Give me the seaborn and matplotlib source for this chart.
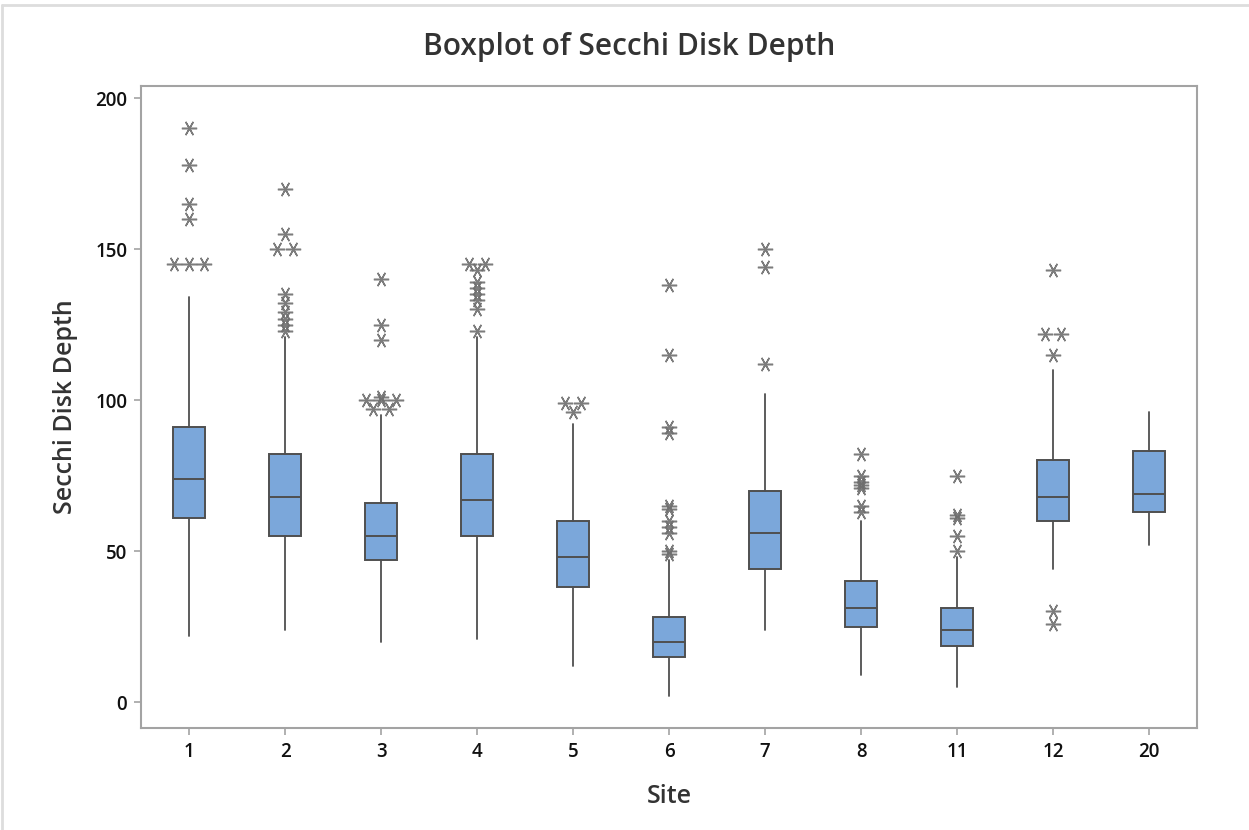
import matplotlib
matplotlib.use("Agg")
import matplotlib.pyplot as plt
from matplotlib.lines import Line2D
import seaborn as sns
import numpy as np

# Site labels along the x axis
sites = ["1", "2", "3", "4", "5", "6", "7", "8", "11", "12", "20"]

# Five-number summaries per site (whisker ends, quartiles, median)
whisker_low = [22, 24, 20, 21, 12, 2, 24, 9, 5, 44, 52]
q1 = [61, 55, 47, 55, 38, 15, 44, 25, 18.5, 60, 63]
median = [74, 68, 55, 67, 48, 20, 56, 31, 24, 68, 69]
q3 = [91, 82, 66, 82, 60, 28, 70, 40, 31, 80, 83]
whisker_high = [134, 121, 95, 121, 92, 47, 102, 60, 48, 110, 96]

# Outlying observations per site
outliers = [
    [190, 178, 165, 160, 145, 145, 145],
    [170, 155, 150, 150, 135, 132, 129, 127, 125, 123],
    [140, 125, 120, 101, 100, 100, 100, 97, 97],
    [145, 145, 143, 139, 137, 135, 133, 130, 123],
    [99, 99, 96],
    [138, 115, 91, 89, 65, 64, 60, 58, 56, 50, 49],
    [150, 144, 112],
    [82, 75, 73, 72, 71, 65, 63],
    [75, 62, 61, 55, 50],
    [143, 122, 122, 115, 30, 26],
    [],
]

sns.set_theme(style="white")
plt.rcParams["font.family"] = ["Open Sans", "DejaVu Sans"]

fig = plt.figure(figsize=(12.49, 8.30), dpi=100)
ax = fig.add_axes([0.1129, 0.1229, 0.8455, 0.7735])

box_fill = "#7BA7DA"
edge = "#4F4F4F"
frame = "#A3A3A3"
text_col = "#333333"

stats = []
for i, s in enumerate(sites):
    stats.append(dict(label=s, whislo=whisker_low[i], q1=q1[i], med=median[i],
                      q3=q3[i], whishi=whisker_high[i], fliers=[]))

positions = np.arange(len(sites))
ax.bxp(stats, positions=positions, widths=0.33, patch_artist=True,
       showfliers=False, showcaps=False,
       boxprops=dict(facecolor=box_fill, edgecolor=edge, linewidth=1.4),
       medianprops=dict(color=edge, linewidth=1.4),
       whiskerprops=dict(color=edge, linewidth=1.3))

# Outliers as asterisks; identical values are spread sideways
star = (6, 2, 90)
spread = 0.16
for pos, vals in zip(positions, outliers):
    uniq = sorted(set(vals))
    for v in uniq:
        n = vals.count(v)
        xs = pos + (np.arange(n) - (n - 1) / 2) * spread
        ax.plot(xs, [v] * n, linestyle="none", marker=star, markersize=11,
                markeredgewidth=1.1, color="#6E6E6E", alpha=0.9)

ax.set_xlim(-0.5, 10.5)
ax.set_ylim(-8.6, 204)
ax.set_xticks(positions)
ax.set_xticklabels(sites)
ax.set_yticks([0, 50, 100, 150, 200])

for sp in ax.spines.values():
    sp.set_visible(True)
    sp.set_color(frame)
    sp.set_linewidth(1.5)

ax.tick_params(axis="both", which="major", direction="out", length=5, width=1.2,
               color=frame, labelsize=13.5, labelcolor="#111111", pad=5)
ax.tick_params(axis="x", bottom=True)
ax.tick_params(axis="y", left=True)
for lbl in ax.get_xticklabels() + ax.get_yticklabels():
    lbl.set_fontweight("semibold")
ax.grid(False)

fig.suptitle("Boxplot of Secchi Disk Depth", x=0.504, y=0.943, va="center",
             fontsize=21.5, color=text_col, fontweight="semibold")
ax.set_xlabel("Site", fontsize=18, color=text_col, fontweight="semibold",
              labelpad=16)
ax.set_ylabel("Secchi Disk Depth", fontsize=18, color=text_col,
              fontweight="semibold", labelpad=12)

# Light frame around the graph window
fig.add_artist(Line2D([0.002, 0.002], [0.0, 0.994], color="#DDDDDD", lw=2,
                      transform=fig.transFigure))
fig.add_artist(Line2D([0.002, 1.0], [0.994, 0.994], color="#DDDDDD", lw=2,
                      transform=fig.transFigure))

fig.savefig("out.png", dpi=100, facecolor="white")
